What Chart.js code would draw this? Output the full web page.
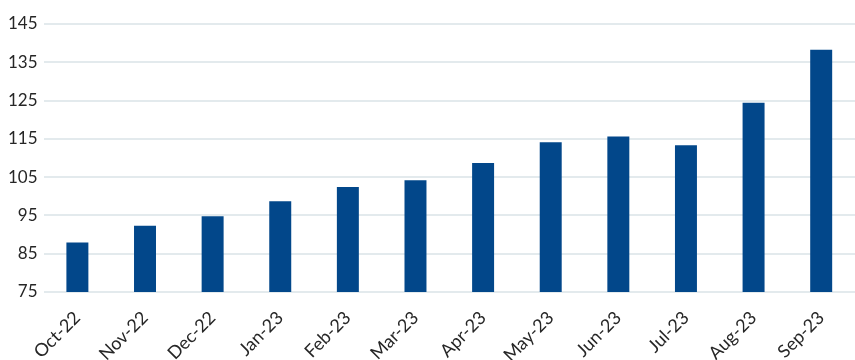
<!DOCTYPE html>
<html>
<head>
<meta charset="utf-8">
<script src="https://cdn.jsdelivr.net/npm/chart.js@4"></script>
<style>
  body { margin: 0; background: #fff; }
  #wrap { width: 855px; height: 360px; }
</style>
</head>
<body>
<div id="wrap"><canvas id="chart"></canvas></div>
<script>
const months = ['Oct-22', 'Nov-22', 'Dec-22', 'Jan-23', 'Feb-23', 'Mar-23',
                'Apr-23', 'May-23', 'Jun-23', 'Jul-23', 'Aug-23', 'Sep-23'];
const values = [87.9, 92.3, 94.8, 98.7, 102.4, 104.2, 108.7, 114.1, 115.6, 113.3, 124.4, 138.3];
const yMin = 75;
const yMax = 145;
const yStep = 10;

const ctx = document.getElementById('chart');
new Chart(ctx, {
  type: 'bar',
  data: {
    labels: months,
    datasets: [{
      data: values,
      backgroundColor: '#02478a',
      borderWidth: 0,
      barPercentage: 0.65,
      categoryPercentage: 0.5
    }]
  },
  options: {
    responsive: true,
    maintainAspectRatio: false,
    animation: false,
    layout: { padding: { top: 24, right: 0, left: 2, bottom: 0 } },
    plugins: {
      legend: { display: false },
      tooltip: { enabled: false }
    },
    scales: {
      x: {
        grid: { display: false, drawTicks: false },
        border: { display: false },
        // rotated labels overestimate their box, so pin the axis height
        afterFit: (scale) => { scale.height = 68; },
        ticks: {
          minRotation: 45,
          maxRotation: 45,
          padding: 15,
          color: '#262626',
          font: { family: 'Lato', size: 18 }
        }
      },
      y: {
        min: yMin,
        max: yMax,
        border: { display: false },
        grid: { color: '#e3eaed', lineWidth: 2, drawTicks: false },
        ticks: {
          stepSize: yStep,
          padding: 6,
          color: '#262626',
          font: { family: 'Lato', size: 17 }
        }
      }
    }
  }
});
</script>
</body>
</html>
